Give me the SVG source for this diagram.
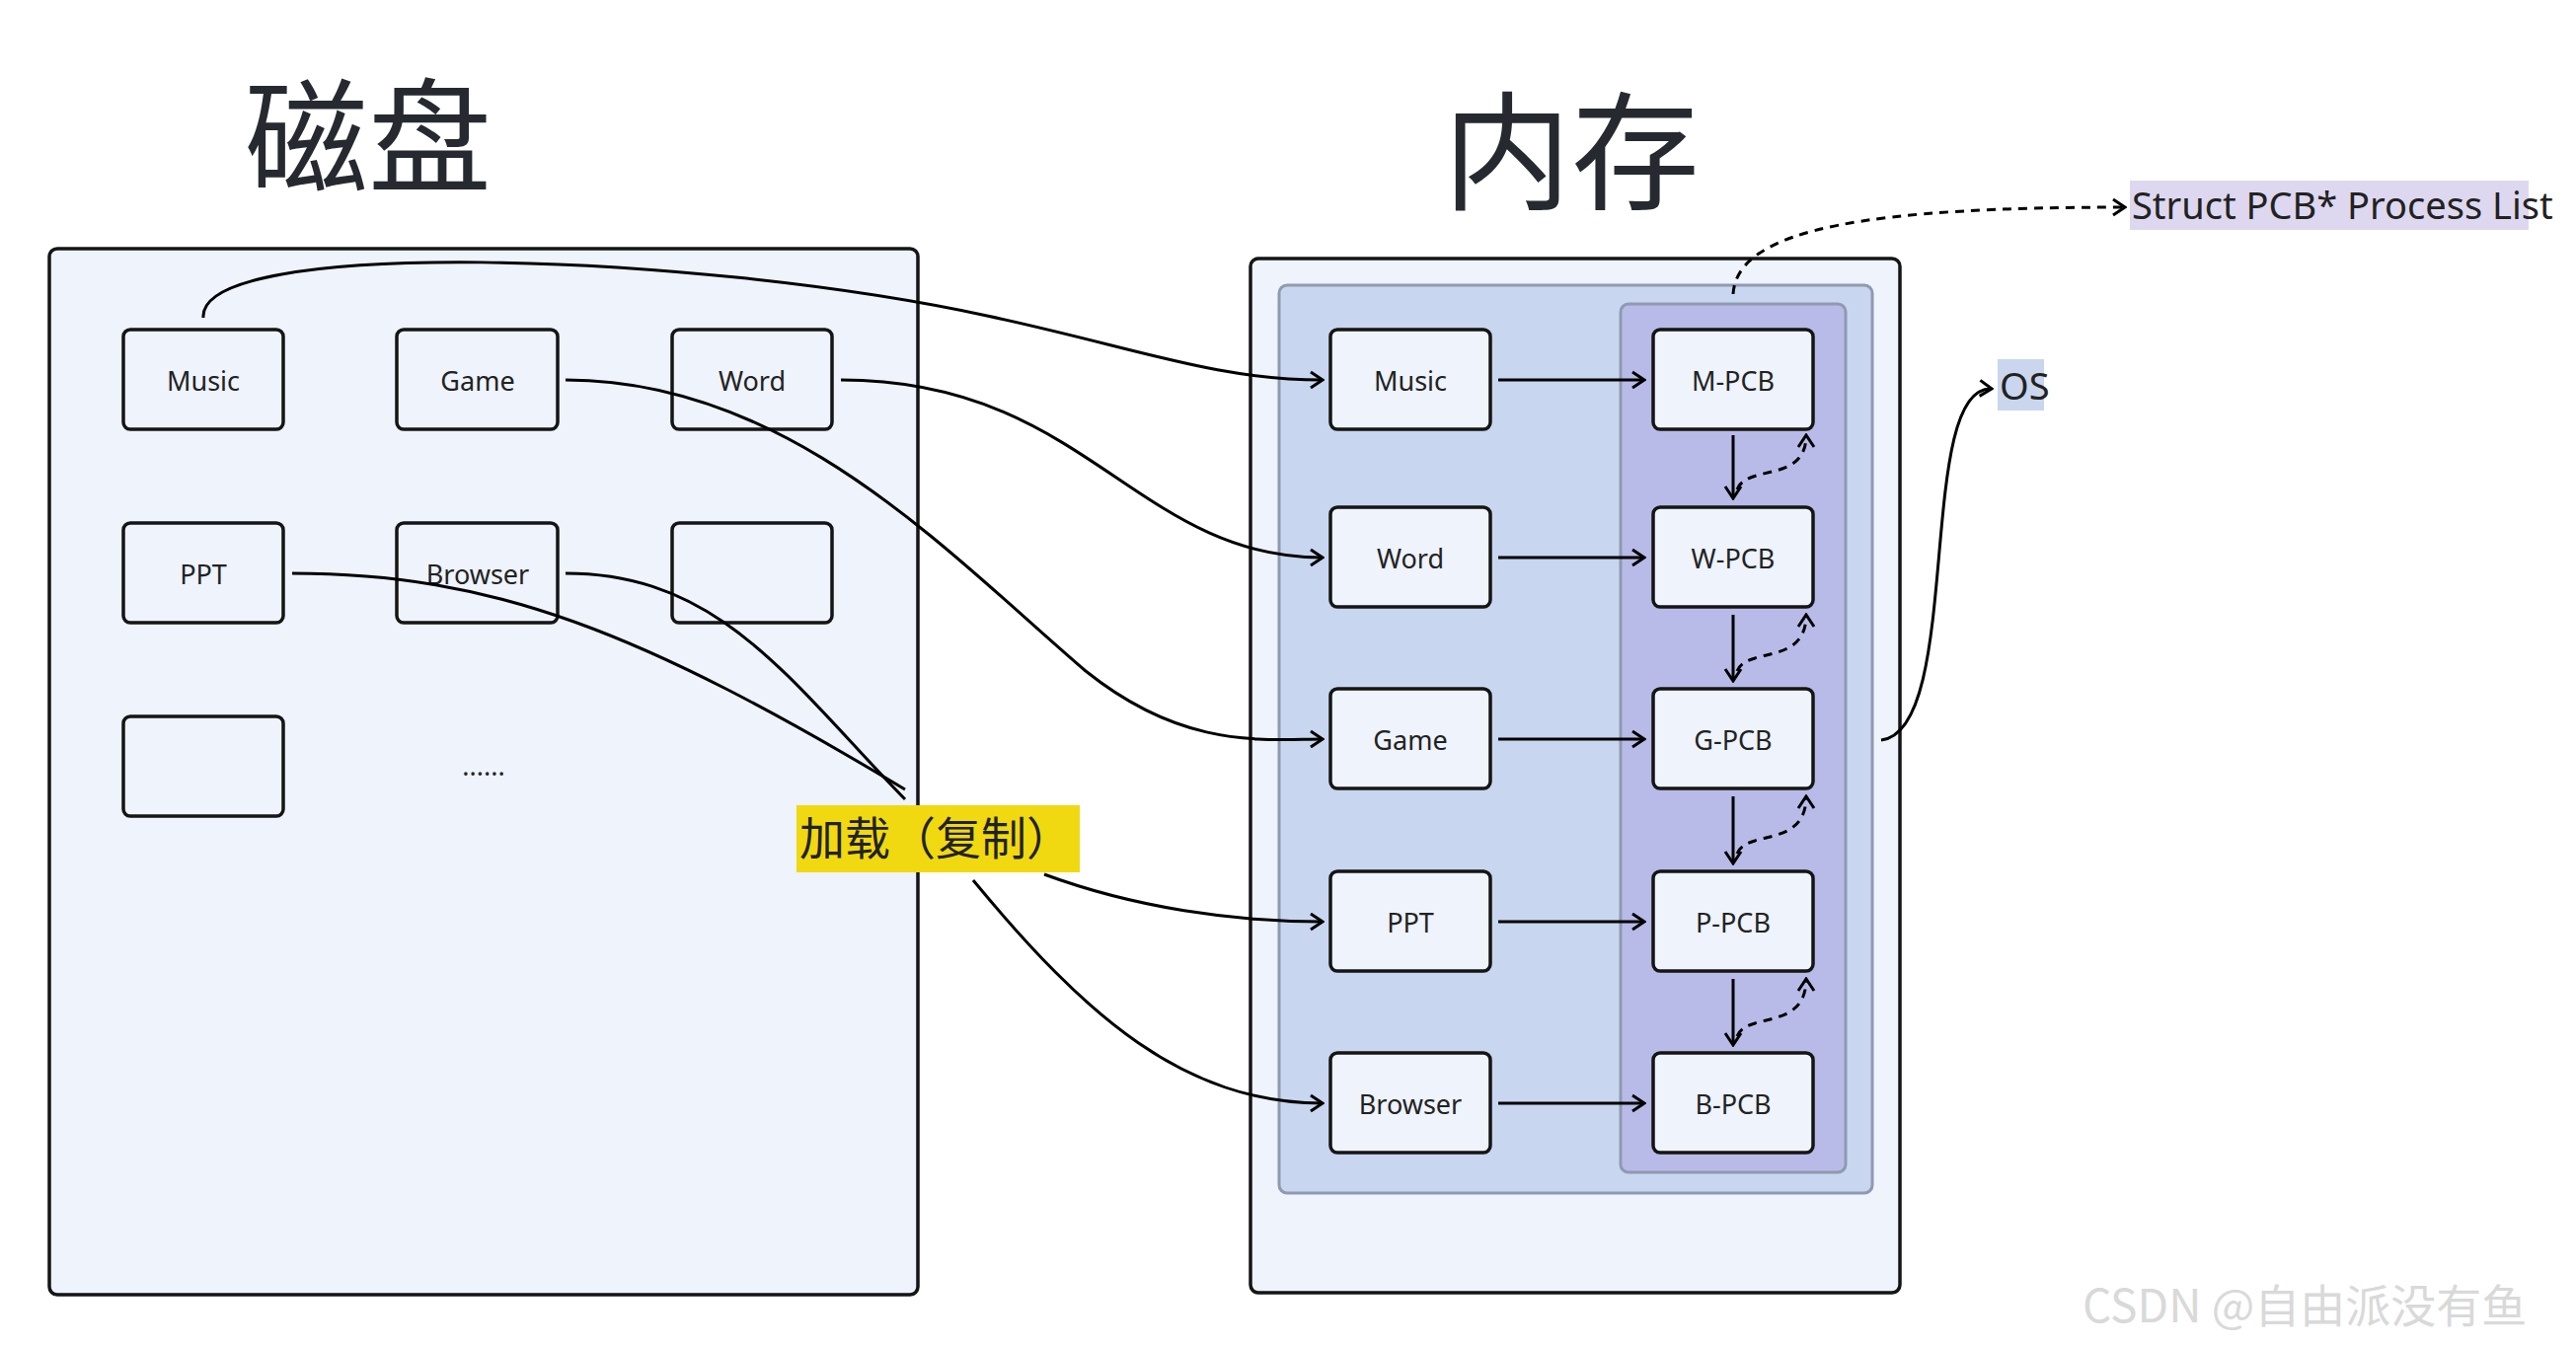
<svg xmlns="http://www.w3.org/2000/svg" width="2610" height="1364" viewBox="0 0 2610 1364">
<style>
.n{fill:#eef3fc;stroke:#151515;stroke-width:3.5}
.t{font-family:"Noto Sans","Liberation Sans",sans-serif;font-size:27px;fill:#222;text-anchor:middle;dominant-baseline:central}
.c{fill:none;stroke:#000;stroke-width:3}
.d{fill:none;stroke:#000;stroke-width:3;stroke-dasharray:9 7}
.h{font-family:"Noto Sans CJK SC","Noto Sans",sans-serif;fill:#262a30;text-anchor:middle}
</style>
<defs>
<marker id="a" viewBox="0 0 20 20" refX="18" refY="10" markerWidth="20" markerHeight="20" markerUnits="userSpaceOnUse" orient="auto"><path d="M6 2 L18 10 L6 18" fill="none" stroke="#000" stroke-width="3"/></marker>
</defs>
<rect width="2610" height="1364" fill="#fff"/>
<text class="h" x="373" y="185" font-size="125">磁盘</text>
<text class="h" x="1592" y="202" font-size="130">内存</text>
<g id="disk"><rect x="50" y="252" width="880" height="1060" rx="8" class="n"/></g>
<g id="mem"><rect x="1267" y="262" width="658" height="1048" rx="8" class="n"/>
<rect x="1296" y="289" width="601" height="920" rx="8" fill="#c8d6ef" stroke="#8f9ab0" stroke-width="3"/>
<rect x="1642" y="308" width="228" height="880" rx="8" fill="#b8bbe8" stroke="#8f9ab0" stroke-width="3"/></g>
<g id="d-music"><rect x="125" y="334" width="162" height="101" rx="7" class="n"/><text class="t" x="206" y="385">Music</text></g>
<g id="d-game"><rect x="402" y="334" width="163" height="101" rx="7" class="n"/><text class="t" x="484" y="385">Game</text></g>
<g id="d-word"><rect x="681" y="334" width="162" height="101" rx="7" class="n"/><text class="t" x="762" y="385">Word</text></g>
<g id="d-ppt"><rect x="125" y="530" width="162" height="101" rx="7" class="n"/><text class="t" x="206" y="581">PPT</text></g>
<g id="d-browser"><rect x="402" y="530" width="163" height="101" rx="7" class="n"/><text class="t" x="484" y="581">Browser</text></g>
<g id="d-e1"><rect x="681" y="530" width="162" height="101" rx="7" class="n"/></g>
<g id="d-e2"><rect x="125" y="726" width="162" height="101" rx="7" class="n"/></g>
<text class="t" x="490" y="775">......</text>
<g id="m-music"><rect x="1348" y="334" width="162" height="101" rx="7" class="n"/><text class="t" x="1429" y="385">Music</text></g>
<g id="m-word"><rect x="1348" y="514" width="162" height="101" rx="7" class="n"/><text class="t" x="1429" y="565">Word</text></g>
<g id="m-game"><rect x="1348" y="698" width="162" height="101" rx="7" class="n"/><text class="t" x="1429" y="749">Game</text></g>
<g id="m-ppt"><rect x="1348" y="883" width="162" height="101" rx="7" class="n"/><text class="t" x="1429" y="934">PPT</text></g>
<g id="m-browser"><rect x="1348" y="1067" width="162" height="101" rx="7" class="n"/><text class="t" x="1429" y="1118">Browser</text></g>
<g id="p-m"><rect x="1675" y="334" width="162" height="101" rx="7" class="n"/><text class="t" x="1756" y="385">M-PCB</text></g>
<g id="p-w"><rect x="1675" y="514" width="162" height="101" rx="7" class="n"/><text class="t" x="1756" y="565">W-PCB</text></g>
<g id="p-g"><rect x="1675" y="698" width="162" height="101" rx="7" class="n"/><text class="t" x="1756" y="749">G-PCB</text></g>
<g id="p-p"><rect x="1675" y="883" width="162" height="101" rx="7" class="n"/><text class="t" x="1756" y="934">P-PCB</text></g>
<g id="p-b"><rect x="1675" y="1067" width="162" height="101" rx="7" class="n"/><text class="t" x="1756" y="1118">B-PCB</text></g>
<g id="lbl"><rect x="807" y="816" width="287" height="68" fill="#f0d910"/><text x="810" y="866" font-family="Noto Sans CJK SC,sans-serif" font-size="46" fill="#222">加载（复制）</text></g>
<g id="struct"><rect x="2158" y="183" width="404" height="50" fill="#ddd8ef"/><text x="2160" y="222" font-family="Noto Sans,sans-serif" font-size="38" fill="#222">Struct PCB* Process List</text></g>
<g id="os"><rect x="2024" y="364" width="47" height="52" fill="#c9d6ee"/><text x="2026" y="405" font-family="Noto Sans,sans-serif" font-size="38" fill="#222">OS</text></g>
<g id="connectors">
<path class="c" marker-end="url(#a)" d="M206 322 C200 240 700 255 1000 320 C1150 352 1230 385 1340 385"/>
<path class="c" marker-end="url(#a)" d="M573 385 C800 385 960 560 1100 680 C1200 760 1280 749 1340 749"/>
<path class="c" marker-end="url(#a)" d="M852 385 C1100 385 1150 565 1340 565"/>
<path class="c" d="M296 581 C500 581 650 640 917 800"/>
<path class="c" d="M573 581 C730 581 800 690 917 810"/>
<path class="c" marker-end="url(#a)" d="M1058 886 C1150 920 1250 934 1340 934"/>
<path class="c" marker-end="url(#a)" d="M986 892 C1100 1030 1200 1118 1340 1118"/>
<path class="c" marker-end="url(#a)" d="M1518 385 H1666"/>
<path class="c" marker-end="url(#a)" d="M1518 565 H1666"/>
<path class="c" marker-end="url(#a)" d="M1518 749 H1666"/>
<path class="c" marker-end="url(#a)" d="M1518 934 H1666"/>
<path class="c" marker-end="url(#a)" d="M1518 1118 H1666"/>
<path class="c" marker-end="url(#a)" d="M1756 441 V505"/>
<path class="c" marker-end="url(#a)" d="M1756 623 V690"/>
<path class="c" marker-end="url(#a)" d="M1756 807 V875"/>
<path class="c" marker-end="url(#a)" d="M1756 992 V1059"/>
<path class="d" marker-end="url(#a)" d="M1760 496 C1770 470 1830 490 1830 441"/>
<path class="d" marker-end="url(#a)" d="M1760 680 C1770 655 1830 675 1830 623"/>
<path class="d" marker-end="url(#a)" d="M1760 865 C1770 840 1830 860 1830 807"/>
<path class="d" marker-end="url(#a)" d="M1760 1050 C1770 1025 1830 1045 1830 992"/>
<path class="d" marker-end="url(#a)" d="M1756 298 C1760 230 1900 210 2153 210"/>
<path class="c" marker-end="url(#a)" d="M1906 750 C1990 740 1940 390 2018 394"/>
</g>
<text x="2110" y="1340" font-family="Noto Sans CJK SC,sans-serif" font-size="46" fill="#d9d9d9">CSDN @自由派没有鱼</text>
</svg>
